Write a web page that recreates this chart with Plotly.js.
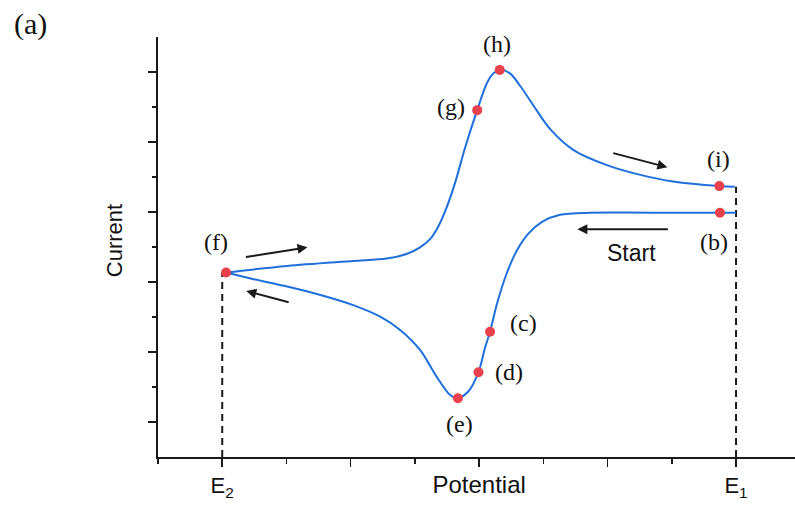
<!DOCTYPE html>
<html><head><meta charset="utf-8">
<script src="https://cdn.plot.ly/plotly-3.0.1.min.js"></script>
<style>html,body{margin:0;padding:0;background:#fff;}#chart{width:795px;height:508px;}</style>
</head><body><div id="chart"></div>
<script>
// Forward (cathodic) scan: starts at E1, runs to E2
const forwardPotential = [9.00, 8.75, 7.66, 6.73, 6.26, 5.98, 5.77, 5.59, 5.43, 5.28, 5.17, 5.09, 4.99, 4.83, 4.67, 4.55, 4.34, 4.08, 3.77, 3.46, 3.04, 2.53, 2.01, 1.49, 1.06];
const forwardCurrent   = [6.98, 6.98, 6.98, 6.98, 6.92, 6.72, 6.39, 5.91, 5.25, 4.39, 3.58, 3.11, 2.42, 1.87, 1.68, 1.77, 2.29, 3.06, 3.63, 4.01, 4.34, 4.63, 4.87, 5.08, 5.27];
// Reverse (anodic) scan: from E2 back to E1
const reversePotential = [1.06, 2.01, 3.04, 3.56, 3.87, 4.08, 4.24, 4.36, 4.49, 4.63, 4.78, 4.97, 5.12, 5.22, 5.32, 5.48, 5.64, 5.85, 6.11, 6.47, 6.99, 7.51, 8.02, 8.74, 8.98];
const reverseCurrent   = [5.27, 5.46, 5.60, 5.67, 5.80, 5.99, 6.23, 6.57, 7.11, 7.86, 8.83, 9.91, 10.68, 10.96, 11.06, 10.96, 10.60, 10.03, 9.36, 8.77, 8.34, 8.06, 7.87, 7.74, 7.72];

// Marked states
const pointNames     = ['(b)', '(c)', '(d)', '(e)', '(f)', '(g)', '(h)', '(i)'];
const pointPotential = [8.75, 5.17, 4.99, 4.67, 1.06, 4.97, 5.32, 8.74];
const pointCurrent   = [6.98, 3.58, 2.42, 1.68, 5.27, 9.91, 11.06, 7.74];
const labelPotential = [8.66, 5.69, 5.46, 4.69, 0.91, 4.56, 5.28, 8.73];
const labelCurrent   = [6.15, 3.83, 2.43, 0.94, 6.13, 10.0, 11.79, 8.52];

// Switching potentials (dashed drops to axis)
const switchPotential = [1, 9];
const switchCurrent   = [5.27, 7.72];

// Axis ticks
const majorTickVals  = [1, 3, 5, 7, 9];
const majorTickText  = ['E<sub>2</sub>', '', '<span style="font-size:24px">Potential</span>', '', 'E<sub>1</sub>'];
const minorTickVals  = [0, 2, 4, 6, 8];
const yMajorTickVals = [1, 3, 5, 7, 9, 11];
const yMinorTickVals = [2, 4, 6, 8, 10];

// Scan-direction arrows
const arrowTailX = [1.345, 2.058, 7.065, 7.962];
const arrowTailY = [5.706, 4.409, 8.694, 6.506];
const arrowHeadX = [2.328, 1.374, 7.931, 6.530];
const arrowHeadY = [5.991, 4.743, 8.277, 6.506];
const startLabel = {text: 'Start', x: 7.37, y: 5.83};

const blue = '#1f6fdc', red = '#e8414d', ink = '#1a1a1a';

const traces = [];
for (let k = 0; k < switchPotential.length; k++) {
  traces.push({x: [switchPotential[k], switchPotential[k]], y: [0, switchCurrent[k]], mode: 'lines',
    line: {color: ink, width: 2, dash: '7px,5px'}, hoverinfo: 'skip', showlegend: false});
}
traces.push({x: forwardPotential, y: forwardCurrent, mode: 'lines',
  line: {color: blue, width: 2, shape: 'spline', smoothing: 0.9}, showlegend: false});
traces.push({x: reversePotential, y: reverseCurrent, mode: 'lines',
  line: {color: blue, width: 2, shape: 'spline', smoothing: 0.9}, showlegend: false});
traces.push({x: pointPotential, y: pointCurrent, mode: 'markers',
  marker: {color: red, size: 10}, showlegend: false});

const annotations = [];
for (let k = 0; k < pointNames.length; k++) {
  annotations.push({x: labelPotential[k], y: labelCurrent[k], xref: 'x', yref: 'y', text: pointNames[k],
    showarrow: false, xanchor: 'center', yanchor: 'middle',
    font: {family: 'Liberation Serif, Times New Roman, serif', size: 24, color: '#111'}});
}
for (let k = 0; k < arrowTailX.length; k++) {
  annotations.push({x: arrowHeadX[k], y: arrowHeadY[k], ax: arrowTailX[k], ay: arrowTailY[k],
    xref: 'x', yref: 'y', axref: 'x', ayref: 'y', text: '', showarrow: true,
    arrowhead: 2, arrowsize: 1, arrowwidth: 2, arrowcolor: ink});
}
annotations.push({x: startLabel.x, y: startLabel.y, xref: 'x', yref: 'y', text: startLabel.text,
  showarrow: false, xanchor: 'center', yanchor: 'middle',
  font: {family: 'Liberation Sans, Arial, sans-serif', size: 23, color: '#111'}});
annotations.push({x: -0.2, y: 1.032, xref: 'paper', yref: 'paper', text: '(a)', showarrow: false,
  xanchor: 'center', yanchor: 'middle',
  font: {family: 'Liberation Serif, Times New Roman, serif', size: 30, color: '#111'}});
annotations.push({x: -0.069, y: 0.514, xref: 'paper', yref: 'paper', text: 'Current', showarrow: false,
  textangle: -90, xanchor: 'center', yanchor: 'middle',
  font: {family: 'Liberation Sans, Arial, sans-serif', size: 22, color: '#111'}});

const layout = {
  width: 795, height: 508,
  margin: {l: 158, r: 0, t: 37, b: 51, pad: 0},
  paper_bgcolor: '#fff', plot_bgcolor: '#fff',
  showlegend: false,
  xaxis: {range: [0, 9.918], showgrid: false, zeroline: false, showline: true, linecolor: ink, linewidth: 2,
    ticks: 'outside', ticklen: 8, tickwidth: 1.5, tickcolor: ink,
    tickmode: 'array', tickvals: majorTickVals, ticktext: majorTickText,
    tickfont: {family: 'Liberation Sans, Arial, sans-serif', size: 22, color: '#111'},
    minor: {tickmode: 'array', tickvals: minorTickVals, ticks: 'outside', ticklen: 5, tickwidth: 1.5, tickcolor: ink, showgrid: false},
    fixedrange: true},
  yaxis: {range: [0, 12], showgrid: false, zeroline: false, showline: true, linecolor: ink, linewidth: 2,
    ticks: 'outside', ticklen: 8, tickwidth: 1.5, tickcolor: ink,
    tickmode: 'array', tickvals: yMajorTickVals, showticklabels: false,
    minor: {tickmode: 'array', tickvals: yMinorTickVals, ticks: 'outside', ticklen: 4, tickwidth: 1.5, tickcolor: ink, showgrid: false},
    fixedrange: true},
  annotations: annotations
};
Plotly.newPlot('chart', traces, layout, {displayModeBar: false, staticPlot: true});
</script></body></html>
